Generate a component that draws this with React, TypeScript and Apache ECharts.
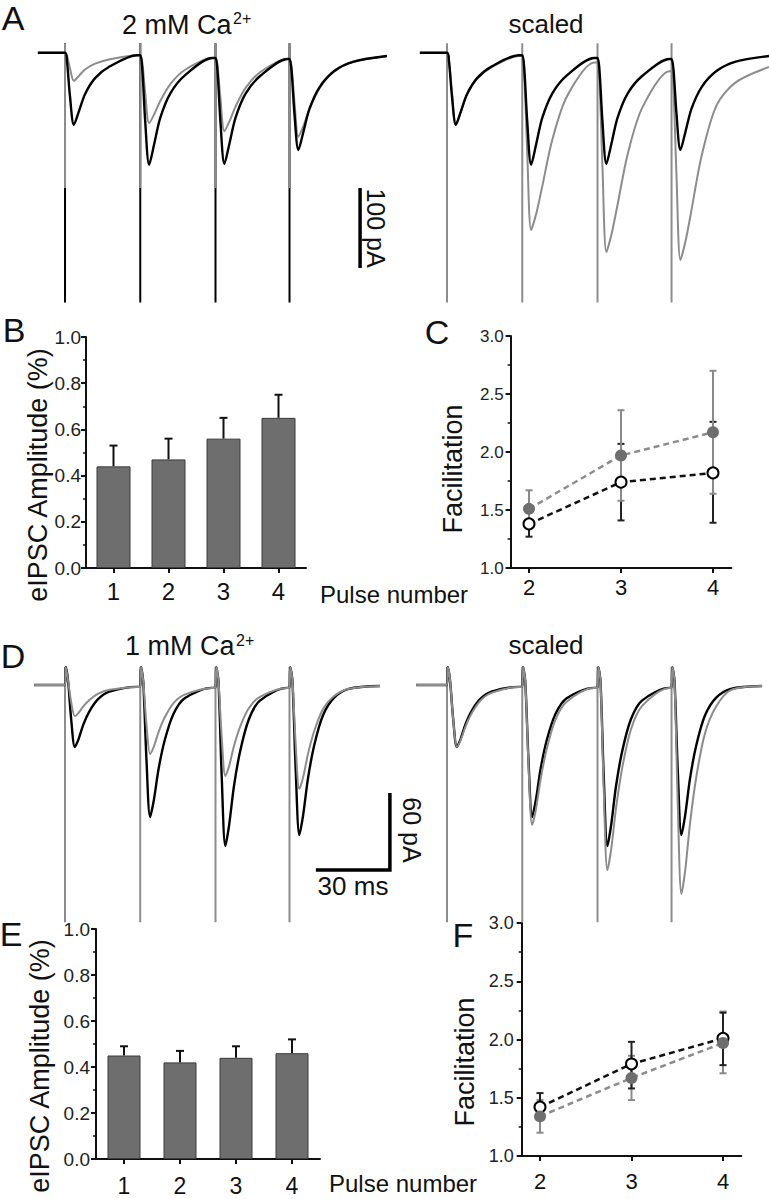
import React, { useEffect, useRef } from 'react';
import * as echarts from 'echarts';

const FONT = "'Liberation Sans', Arial, Helvetica, sans-serif";

// stimulus times (ms)
const PULSE_TIMES = [10, 40.5, 71, 101];

// ---- Panel A traces (2 mM Ca2+), time in ms, current in pA ----
const TIME_A = [
  -1, 10, 10.8, 12, 13.6, 15.7, 18.1, 22.2, 28.2, 39.2,
  40.5, 41.3, 42.5, 44.1, 46.2, 48.6, 52.7, 58.7, 69.7,
  71, 71.8, 73, 74.6, 76.7, 79.1, 83.2, 89.2, 100.2,
  101, 101.8, 103, 104.6, 106.7, 109.1, 113.2, 119.2, 127, 140.5,
];
const CTRL_A = [
  0, 0, -10.8, -54, -90, -72.6, -51.7, -31.7, -16.9, -3,
  -3, -19.4, -85.2, -140, -113.3, -81.3, -50.6, -27.9, -6.5,
  -6.5, -22.4, -86, -139, -112.75, -81.25, -51, -28.75, -7.75,
  -7.75, -21.4, -76, -121.5, -98, -69.8, -42.8, -22.8, -11, -4,
];
const TEST_A = [
  0, 0, -3.5, -19.25, -35, -28.6, -20.9, -13.6, -8.1, -3,
  -3, -11.5, -49.75, -88, -76.6, -60.3, -39.1, -21.2, -6.5,
  -6.5, -15.65, -56.8, -98, -85.4, -67.3, -43.9, -24, -7.75,
  -7.75, -17.5, -61.2, -105, -90.9, -70.7, -44.4, -22.2, -11.1, -4,
];
const TEST_A_SCALED = [
  0, 0, -9, -49.5, -90, -72.8, -52.2, -32.4, -17.8, -4,
  -4, -25.75, -123.6, -221.5, -200.6, -167, -108.4, -53.9, -12,
  -12, -35.7, -142.35, -249, -226.4, -190.2, -127, -68.2, -23,
  -23, -46.6, -152.8, -259, -234.9, -196.3, -128.7, -66, -37, -17.75,
];

// ---- Panel D traces (1 mM Ca2+) ----
const TIME_D = [
  -2.5,
  10, 10.3, 11.2, 12.5, 14, 15.5, 17.5, 20, 23.5, 28, 39,
  40.5, 40.8, 41.7, 43, 44.5, 46, 48, 50.5, 54, 58.5, 69.5,
  71, 71.3, 72.2, 73.5, 75, 76.5, 78.5, 81, 84.5, 89, 100,
  101, 101.3, 102.2, 103.5, 105, 106.5, 108.5, 111, 114.5, 119, 125, 137.7,
];
const CTRL_D = [
  0,
  0, 14, 4, -26.6, -48.3, -42.2, -30.5, -20.2, -10.9, -5.2, -1.5,
  -1.5, 14, 3, -57.3, -102.9, -89.8, -64.7, -42.5, -22.4, -10.3, -2.3,
  -2.3, 14, 3, -70, -125.5, -109.5, -78.7, -51.6, -26.9, -12.2, -2.3,
  -2.3, 14, 3, -65.3, -116.9, -101.8, -72.8, -47.2, -24, -10.1, -3, -0.8,
];
const TEST_D = [
  0,
  0, 14, 4, -13.3, -24.2, -21.7, -16.5, -11.5, -6.7, -3.8, -1.5,
  -1.5, 14, 3, -30.3, -53.8, -48.1, -36.3, -25, -14.1, -7.5, -2.3,
  -2.3, 14, 3, -40, -70.9, -63.4, -47.6, -32.5, -18.1, -9.2, -2.3,
  -2.3, 14, 3, -45.6, -81, -72.2, -53.7, -36.1, -19.2, -8.8, -3, -0.8,
];
const TEST_D_SCALED = [
  0,
  0, 14, 4, -26.6, -48.3, -43.2, -32.4, -22.1, -12.3, -6.2, -1.5,
  -1.5, 14, 3, -60.6, -109, -97.3, -72.7, -49.2, -26.8, -13, -2.3,
  -2.3, 14, 3, -80.3, -144.2, -128.6, -96, -64.7, -34.9, -16.5, -2.3,
  -2.3, 14, 3, -90.6, -162.9, -145.1, -107.8, -72.1, -38.1, -17, -4, -0.8,
];

// stimulus artifact extents (pA)
const ART_A = { top: 12, mid: -169, bottom: -312 };
const ART_D = { top: 14, bottom: -185 };

// scale bars
const SCALE_A_PA = 100;
const SCALE_D_PA = 60;
const SCALE_D_MS = 30;

// ---- Panels B / E ----
const PULSES = ['1', '2', '3', '4'];
const AMP_B = [0.44, 0.47, 0.56, 0.65];
const AMP_B_TOP = [0.53, 0.56, 0.65, 0.75];
const AMP_E = [0.45, 0.42, 0.44, 0.46];
const AMP_E_TOP = [0.49, 0.47, 0.49, 0.52];

// ---- Panels C / F ----
const FAC_X = [2, 3, 4];
const FAC_C_FILLED = [1.51, 1.97, 2.17];
const FAC_C_FILLED_LO = [1.35, 1.58, 1.64];
const FAC_C_FILLED_HI = [1.67, 2.36, 2.7];
const FAC_C_OPEN = [1.38, 1.74, 1.82];
const FAC_C_OPEN_LO = [1.27, 1.41, 1.39];
const FAC_C_OPEN_HI = [1.49, 2.07, 2.26];
const FAC_F_FILLED = [1.34, 1.67, 1.97];
const FAC_F_FILLED_LO = [1.2, 1.48, 1.71];
const FAC_F_FILLED_HI = [1.48, 1.86, 2.24];
const FAC_F_OPEN = [1.42, 1.79, 2.01];
const FAC_F_OPEN_LO = [1.32, 1.58, 1.78];
const FAC_F_OPEN_HI = [1.54, 1.98, 2.23];

const BLACK = '#000000';
const GRAY = '#8c8c8c';
const MARK_GRAY = '#6e6e6e';
const AXIS = '#111111';

const zip = (xs: number[], ys: number[]) => xs.map((x, i) => [x, ys[i]]);

const traceSeries = (idx: number, xs: number[], ys: number[], color: string, width: number) => ({
  type: 'line',
  xAxisIndex: idx,
  yAxisIndex: idx,
  data: zip(xs, ys),
  showSymbol: false,
  symbol: 'none',
  smooth: 0.3,
  lineStyle: { color, width },
  silent: true,
});

const artifactSeries = (idx: number, top: number, bottom: number, color: string) => ({
  type: 'custom',
  xAxisIndex: idx,
  yAxisIndex: idx,
  silent: true,
  data: PULSE_TIMES.map((t) => [t, top, bottom]),
  encode: { x: 0, y: [1, 2] },
  renderItem: (_p: any, api: any) => {
    const a = api.coord([api.value(0), api.value(1)]);
    const b = api.coord([api.value(0), api.value(2)]);
    return {
      type: 'line',
      shape: { x1: a[0], y1: a[1], x2: b[0], y2: b[1] },
      style: { stroke: color, lineWidth: 2 },
    };
  },
});

const errSeries = (idx: number, xs: any[], lo: number[], hi: number[], color: string, capHalf: number, lowerCap: boolean, lw: number) => ({
  type: 'custom',
  xAxisIndex: idx,
  yAxisIndex: idx,
  silent: true,
  data: xs.map((x, i) => [x, lo[i], hi[i]]),
  encode: { x: 0, y: [1, 2] },
  renderItem: (_p: any, api: any) => {
    const a = api.coord([api.value(0), api.value(1)]);
    const b = api.coord([api.value(0), api.value(2)]);
    const st = { stroke: color, lineWidth: lw };
    const children: any[] = [
      { type: 'line', shape: { x1: a[0], y1: a[1], x2: b[0], y2: b[1] }, style: st },
      { type: 'line', shape: { x1: b[0] - capHalf, y1: b[1], x2: b[0] + capHalf, y2: b[1] }, style: st },
    ];
    if (lowerCap) {
      children.push({ type: 'line', shape: { x1: a[0] - capHalf, y1: a[1], x2: a[0] + capHalf, y2: a[1] }, style: st });
    }
    return { type: 'group', children };
  },
});

const hiddenAxis = (gridIndex: number, min: number, max: number) => ({
  type: 'value', gridIndex, min, max, show: false,
});

const axisLineStyle = { show: true, onZero: false, lineStyle: { color: AXIS, width: 2 } };

const barXAxis = (gridIndex: number, fontSize: number, margin: number) => ({
  type: 'category',
  gridIndex,
  data: PULSES,
  axisLine: axisLineStyle,
  axisTick: { show: true, alignWithLabel: true, length: 5, lineStyle: { color: AXIS, width: 2 } },
  axisLabel: { show: true, fontFamily: FONT, fontSize, color: '#111', margin },
  splitLine: { show: false },
});

const ampYAxis = (gridIndex: number, margin: number) => ({
  type: 'value',
  gridIndex,
  min: 0,
  max: 1,
  interval: 0.2,
  axisLine: axisLineStyle,
  axisTick: { show: true, length: 5, lineStyle: { color: AXIS, width: 2 } },
  minorTick: { show: true, splitNumber: 2, length: 3, lineStyle: { color: AXIS, width: 1.5 } },
  splitLine: { show: false },
  minorSplitLine: { show: false },
  axisLabel: { show: true, fontFamily: FONT, fontSize: 19, color: '#222', margin, formatter: (v: number) => v.toFixed(1) },
});

const facXAxis = (gridIndex: number, fontSize: number, margin: number) => ({
  type: 'value',
  gridIndex,
  min: 1.8,
  max: 4.2,
  axisLine: axisLineStyle,
  axisTick: { show: true, customValues: FAC_X, length: 5, lineStyle: { color: AXIS, width: 2 } },
  axisLabel: { show: true, customValues: FAC_X, fontFamily: FONT, fontSize, color: '#111', margin, formatter: (v: number) => String(v) },
  splitLine: { show: false },
});

const facYAxis = (gridIndex: number, fontSize: number, margin: number) => ({
  type: 'value',
  gridIndex,
  min: 1,
  max: 3,
  interval: 0.5,
  axisLine: axisLineStyle,
  axisTick: { show: true, length: 5, lineStyle: { color: AXIS, width: 2 } },
  minorTick: { show: true, splitNumber: 2, length: 3, lineStyle: { color: AXIS, width: 1.5 } },
  splitLine: { show: false },
  minorSplitLine: { show: false },
  axisLabel: { show: true, fontFamily: FONT, fontSize, color: '#222', margin, formatter: (v: number) => v.toFixed(1) },
});

const txt = (text: string, x: number, y: number, fontSize: number, align = 'center', rotation = 0) => ({
  type: 'text',
  x,
  y,
  rotation,
  silent: true,
  style: { text, fontFamily: FONT, fontSize, fill: '#111', align, verticalAlign: 'middle' },
});

const grid = (left: number, top: number, width: number, height: number) => ({
  left, top, width, height, containLabel: false, outerBoundsMode: 'none',
});

function buildOption() {
  const ampBarStyle = { color: '#6e6e6e', borderColor: '#3a3a3a', borderWidth: 1 };
  const blackLine = { color: '#111', width: 2.5, type: [6, 4] };
  const grayLine = { color: GRAY, width: 2.5, type: [6, 4] };

  const openMarker = (idx: number, ys: number[]) => ({
    type: 'line', xAxisIndex: idx, yAxisIndex: idx, silent: true,
    data: zip(FAC_X, ys), symbol: 'circle', symbolSize: 11, showSymbol: true,
    lineStyle: blackLine,
    itemStyle: { color: '#ffffff', borderColor: '#000', borderWidth: 2 },
  });
  const filledMarker = (idx: number, ys: number[]) => ({
    type: 'line', xAxisIndex: idx, yAxisIndex: idx, silent: true,
    data: zip(FAC_X, ys), symbol: 'circle', symbolSize: 12, showSymbol: true,
    lineStyle: grayLine,
    itemStyle: { color: MARK_GRAY, borderColor: MARK_GRAY, borderWidth: 0 },
  });

  const scaleAt = 129.6;
  const scaleTop = -169;
  const dCornerT = 141.7;
  const dCornerY = -144.2;

  return {
    animation: false,
    backgroundColor: '#ffffff',
    grid: [
      grid(5.8, 36.8, 382.4, 272),      // 0 A left
      grid(387.8, 36.8, 381.2, 272),    // 1 A right
      grid(86, 337, 220, 231),          // 2 B
      grid(510.6, 336, 220.8, 232),     // 3 C
      grid(5.8, 659.3, 387.3, 275.9),   // 4 D left
      grid(387.8, 659.3, 381.2, 275.9), // 5 D right
      grid(96, 929, 224, 230),          // 6 E
      grid(521.7, 923, 219.6, 233),     // 7 F
    ],
    xAxis: [
      hiddenAxis(0, -14, 141),
      hiddenAxis(1, -14, 140.5),
      barXAxis(2, 24, 11),
      facXAxis(3, 22, 8),
      hiddenAxis(4, -14, 143),
      hiddenAxis(5, -14, 140.5),
      barXAxis(6, 23, 15),
      facXAxis(7, 22, 14),
    ],
    yAxis: [
      hiddenAxis(0, -320, 20),
      hiddenAxis(1, -320, 20),
      ampYAxis(2, 5),
      facYAxis(3, 17, 7),
      hiddenAxis(4, -195, 20),
      hiddenAxis(5, -195, 20),
      ampYAxis(6, 6),
      facYAxis(7, 18, 8),
    ],
    series: [
      // A left
      artifactSeries(0, ART_A.top, ART_A.bottom, BLACK),
      artifactSeries(0, ART_A.top, ART_A.mid, GRAY),
      traceSeries(0, TIME_A, TEST_A, GRAY, 2),
      traceSeries(0, TIME_A, CTRL_A, BLACK, 2.4),
      {
        type: 'line', xAxisIndex: 0, yAxisIndex: 0, silent: true, symbol: 'none',
        data: [[scaleAt, scaleTop], [scaleAt, scaleTop - SCALE_A_PA]],
        lineStyle: { color: BLACK, width: 3.5, cap: 'butt' },
      },
      // A right
      artifactSeries(1, ART_A.top, ART_A.bottom, GRAY),
      traceSeries(1, TIME_A, TEST_A_SCALED, GRAY, 2),
      traceSeries(1, TIME_A, CTRL_A, BLACK, 2.4),
      // B
      {
        type: 'bar', xAxisIndex: 2, yAxisIndex: 2, silent: true,
        data: AMP_B, barWidth: 34, itemStyle: ampBarStyle,
      },
      errSeries(2, [0, 1, 2, 3], AMP_B, AMP_B_TOP, '#111', 4, false, 2),
      // C
      errSeries(3, FAC_X, FAC_C_OPEN_LO, FAC_C_OPEN_HI, '#222', 3.5, true, 2),
      errSeries(3, FAC_X, FAC_C_FILLED_LO, FAC_C_FILLED_HI, '#8a8a8a', 3.5, true, 2),
      filledMarker(3, FAC_C_FILLED),
      openMarker(3, FAC_C_OPEN),
      // D left
      artifactSeries(4, ART_D.top, ART_D.bottom, GRAY),
      traceSeries(4, TIME_D, CTRL_D, BLACK, 2.4),
      traceSeries(4, TIME_D, TEST_D, GRAY, 2),
      {
        type: 'line', xAxisIndex: 4, yAxisIndex: 4, silent: true, symbol: 'none',
        data: [[dCornerT - SCALE_D_MS, dCornerY], [dCornerT, dCornerY], [dCornerT, dCornerY + SCALE_D_PA]],
        lineStyle: { color: BLACK, width: 3.5, cap: 'butt', join: 'miter' },
      },
      // D right
      artifactSeries(5, ART_D.top, ART_D.bottom, GRAY),
      traceSeries(5, TIME_D, CTRL_D, BLACK, 2.4),
      traceSeries(5, TIME_D, TEST_D_SCALED, GRAY, 2),
      // E
      {
        type: 'bar', xAxisIndex: 6, yAxisIndex: 6, silent: true,
        data: AMP_E, barWidth: 33, itemStyle: ampBarStyle,
      },
      errSeries(6, [0, 1, 2, 3], AMP_E, AMP_E_TOP, '#111', 4, false, 2),
      // F
      errSeries(7, FAC_X, FAC_F_FILLED_LO, FAC_F_FILLED_HI, '#8a8a8a', 3.5, true, 2),
      errSeries(7, FAC_X, FAC_F_OPEN_LO, FAC_F_OPEN_HI, '#222', 3.5, true, 2),
      openMarker(7, FAC_F_OPEN),
      filledMarker(7, FAC_F_FILLED),
    ],
    graphic: [
      txt('A', 13, 17.5, 34),
      txt('2 mM Ca', 122, 25, 27, 'left'),
      txt('2+', 233, 18, 16, 'left'),
      txt('scaled', 546, 24, 26),
      txt('100 pA', 376, 228, 25, 'center', -Math.PI / 2),
      txt('B', 14, 330, 34),
      txt('C', 437, 332, 34),
      txt('eIPSC Amplitude (%)', 38, 475, 27, 'center', Math.PI / 2),
      txt('Facilitation', 453, 469, 27, 'center', Math.PI / 2),
      txt('Pulse number', 320, 594, 24, 'left'),
      txt('D', 13, 656, 34),
      txt('1 mM Ca', 125, 646, 27, 'left'),
      txt('2+', 236, 640, 16, 'left'),
      txt('scaled', 546, 645, 26),
      txt('60 pA', 412, 830, 25, 'center', -Math.PI / 2),
      txt('30 ms', 353, 886, 26),
      txt('E', 11, 934, 34),
      txt('F', 463, 935, 34),
      txt('eIPSC Amplitude (%)', 40, 1066, 27, 'center', Math.PI / 2),
      txt('Facilitation', 465, 1062, 27, 'center', Math.PI / 2),
      txt('Pulse number', 329, 1183, 24, 'left'),
    ],
  };
}

export default function App() {
  const ref = useRef<HTMLDivElement>(null);
  useEffect(() => {
    if (!ref.current) return;
    const chart = echarts.init(ref.current, undefined, { renderer: 'svg' });
    chart.setOption(buildOption() as any);
    return () => chart.dispose();
  }, []);
  return (
    <div
      ref={ref}
      style={{ position: 'fixed', left: 0, top: 0, width: 769, height: 1199, background: '#fff' }}
    />
  );
}
